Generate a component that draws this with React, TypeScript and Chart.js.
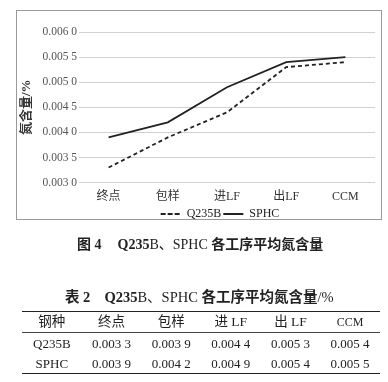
import React, { useEffect, useRef } from 'react';
import { Chart, registerables } from 'chart.js';

Chart.register(...registerables);

const categories = ['终点', '包样', '进LF', '出LF', 'CCM'];
const seriesNames = ['Q235B', 'SPHC'];
const q235bValues = [0.0033, 0.0039, 0.0044, 0.0053, 0.0054];
const sphcValues = [0.0039, 0.0042, 0.0049, 0.0054, 0.0055];
const yTickLabels = ['0.003 0', '0.003 5', '0.004 0', '0.004 5', '0.005 0', '0.005 5', '0.006 0'];
const yMin = 0.003;
const yMax = 0.006;
const yStep = 0.0005;
const yAxisTitle = '氮含量/%';
const tableHeader = ['钢种', '终点', '包样', '进 LF', '出 LF', 'CCM'];

const SERIF = '"Liberation Serif", "Noto Sans CJK SC", serif';
const CJK_BOLD = '"Liberation Serif", "Noto Sans CJK SC", sans-serif';

const fmt = (v: number) => {
  const s = v.toFixed(4);
  return s.slice(0, 5) + ' ' + s.slice(5);
};

const shiftLegend = {
  id: 'shiftLegend',
  afterLayout(chart: any) {
    const lg = chart.legend;
    if (lg) {
      lg.left -= 7;
      lg.right -= 7;
      lg.top -= 5;
      lg.bottom -= 5;
    }
  },
};

function ChartBox() {
  const ref = useRef<HTMLCanvasElement | null>(null);
  useEffect(() => {
    if (!ref.current) return;
    const chart = new Chart(ref.current, {
      type: 'line',
      data: {
        labels: categories,
        datasets: [
          {
            label: seriesNames[0],
            data: q235bValues,
            borderColor: '#222',
            backgroundColor: '#222',
            borderWidth: 1.8,
            borderDash: [4, 3],
            pointRadius: 0,
            tension: 0,
          },
          {
            label: seriesNames[1],
            data: sphcValues,
            borderColor: '#222',
            backgroundColor: '#222',
            borderWidth: 1.8,
            pointRadius: 0,
            tension: 0,
          },
        ],
      },
      plugins: [shiftLegend],
      options: {
        animation: false,
        responsive: false,
        devicePixelRatio: 1,
        layout: { padding: { left: 0, right: 7, top: 22, bottom: 0 } },
        plugins: {
          tooltip: { enabled: false },
          legend: {
            position: 'bottom',
            fullSize: false,
            labels: {
              usePointStyle: false,
              boxWidth: 20,
              boxHeight: 0,
              padding: 2,
              color: '#222',
              font: { family: SERIF, size: 12 },
            },
          },
        },
        scales: {
          x: {
            offset: true,
            grid: { display: false, drawTicks: false },
            border: { display: false },
            ticks: {
              color: '#333',
              padding: 7,
              font: { family: SERIF, size: 12 },
              maxRotation: 0,
            },
          },
          y: {
            min: yMin,
            max: yMax,
            border: { display: false },
            grid: { color: '#d9cfca', lineWidth: 1, drawTicks: false },
            title: {
              display: true,
              text: yAxisTitle,
              color: '#333',
              padding: { top: 3, bottom: 0 },
              font: { family: CJK_BOLD, size: 13, weight: 'bold' },
            },
            ticks: {
              stepSize: yStep,
              padding: 2,
              color: '#555',
              font: { family: SERIF, size: 11.5 },
              callback: (value: any) => {
                const i = Math.round((Number(value) - yMin) / yStep);
                return yTickLabels[i] ?? '';
              },
            },
            afterFit: (s: any) => {
              s.width = 63;
            },
          },
        },
      },
    });
    return () => chart.destroy();
  }, []);
  return (
    <canvas
      ref={ref}
      width={366}
      height={225}
      style={{ position: 'absolute', left: 16, top: 10, width: 366, height: 225 }}
    />
  );
}

export default function App() {
  const colW = 358 / 6;
  const rows = [
    tableHeader,
    [seriesNames[0], ...q235bValues.map(fmt)],
    [seriesNames[1], ...sphcValues.map(fmt)],
  ];
  return (
    <div
      style={{
        position: 'absolute',
        left: 0,
        top: 0,
        width: 388,
        height: 382,
        background: '#fff',
        overflow: 'hidden',
        fontFamily: SERIF,
        color: '#222',
      }}
    >
      <ChartBox />
      <div
        style={{
          position: 'absolute',
          left: 16,
          top: 10,
          width: 366,
          height: 210,
          border: '1px solid #9a9a9a',
          boxSizing: 'border-box',
          pointerEvents: 'none',
        }}
      />
      <div
        style={{
          position: 'absolute',
          left: 77,
          top: 236,
          whiteSpace: 'nowrap',
          fontSize: 14,
          lineHeight: '18px',
          color: '#222',
        }}
      >
        <span style={{ fontWeight: 'bold', fontFamily: CJK_BOLD }}>图 4</span>
        <span style={{ display: 'inline-block', width: 16 }} />
        <span style={{ fontWeight: 'bold' }}>Q235</span>
        <span>B、SPHC </span>
        <span style={{ fontWeight: 'bold', fontFamily: CJK_BOLD }}>各工序平均氮含量</span>
      </div>
      <div
        style={{
          position: 'absolute',
          left: 65,
          top: 288,
          whiteSpace: 'nowrap',
          fontSize: 14.5,
          lineHeight: '18px',
          color: '#222',
        }}
      >
        <span style={{ fontWeight: 'bold', fontFamily: CJK_BOLD }}>表 2</span>
        <span style={{ display: 'inline-block', width: 14 }} />
        <span style={{ fontWeight: 'bold' }}>Q235</span>
        <span>B、SPHC </span>
        <span style={{ fontWeight: 'bold', fontFamily: CJK_BOLD }}>各工序平均氮含量</span>
        <span>/%</span>
      </div>
      <div
        style={{
          position: 'absolute',
          left: 22,
          top: 311,
          width: 358,
          borderTop: '1.5px solid #222',
          borderBottom: '1.5px solid #222',
        }}
      >
        {rows.map((r, ri) => (
          <div
            key={ri}
            style={{
              display: 'flex',
              height: ri === 0 ? 19.5 : 20,
              borderBottom: ri === 0 ? '0.8px solid #444' : 'none',
            }}
          >
            {r.map((c, ci) => (
              <div
                key={ci}
                style={{
                  width: colW,
                  height: ri === 0 ? 19.5 : 20,
                  lineHeight: ri === 0 ? '20px' : '21px',
                  textAlign: 'center',
                  fontSize: ri === 0 && ci < 5 ? 13.5 : ri === 0 ? 12 : 13,
                  whiteSpace: 'nowrap',
                }}
              >
                {c}
              </div>
            ))}
          </div>
        ))}
      </div>
    </div>
  );
}
